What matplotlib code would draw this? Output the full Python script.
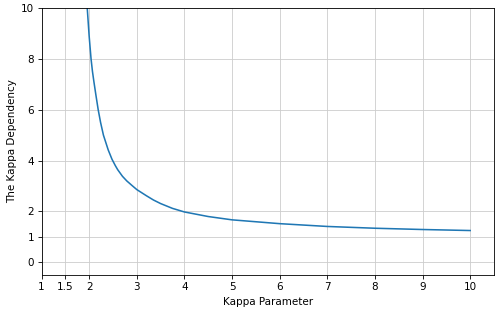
import matplotlib
matplotlib.use("Agg")
import matplotlib.pyplot as plt

# values
kappa = [1.96, 2.0, 2.02, 2.04, 2.07, 2.1, 2.14, 2.19, 2.24, 2.3, 2.4, 2.48,
         2.55, 2.6, 2.7, 2.79, 2.9, 3.0, 3.2, 3.35, 3.5, 3.75,
         4.0, 4.5, 5.0, 6.0, 7.0, 8.0, 9.0, 10.0]
dependency = [10.0, 8.9, 8.45, 8.0, 7.5, 7.1, 6.6, 6.0, 5.5, 5.0, 4.42, 4.05,
              3.8, 3.64, 3.38, 3.2, 3.02, 2.86, 2.62, 2.45, 2.31, 2.12,
              1.98, 1.8, 1.67, 1.52, 1.41, 1.34, 1.29, 1.25]

x_ticks = [1, 1.5, 2, 3, 4, 5, 6, 7, 8, 9, 10]
x_tick_labels = ["1", "1.5", "2", "3", "4", "5", "6", "7", "8", "9", "10"]
y_ticks = [0, 1, 2, 4, 6, 8, 10]

# default matplotlib styling, rendered at 75 dpi to get 500x314
dpi = 75
fig = plt.figure(figsize=(500 / dpi, 314 / dpi), dpi=dpi)
ax = fig.add_axes([0.083, 0.124, 0.905, 0.851])
ax.plot(kappa, dependency, color="#1f77b4", lw=1.5)
ax.set_xlim(1, 10.5)
ax.set_ylim(-0.5, 10)
ax.set_xticks(x_ticks)
ax.set_xticklabels(x_tick_labels)
ax.set_yticks(y_ticks)
ax.grid(True, color="#cccccc", lw=0.8)
ax.set_axisbelow(True)
ax.set_xlabel("Kappa Parameter")
ax.set_ylabel("The Kappa Dependency")

fig.savefig("out.png", dpi=dpi)
